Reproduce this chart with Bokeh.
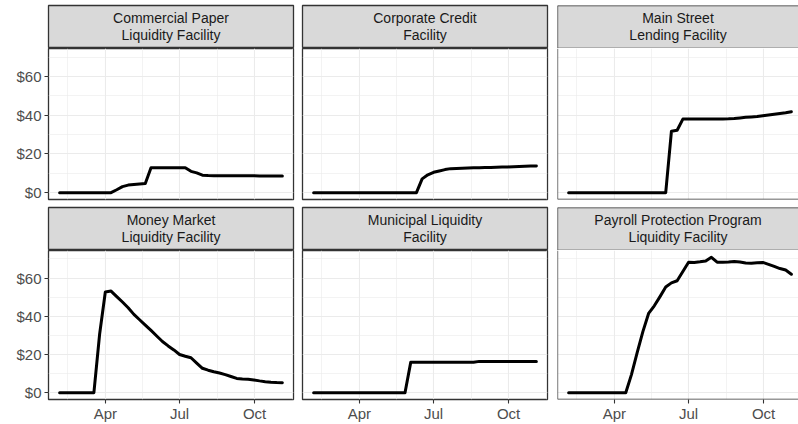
from datetime import datetime

from bokeh.core.properties import value
from bokeh.embed import file_html
from bokeh.layouts import column, row
from bokeh.models import (DatetimeTickFormatter, FixedTicker, Grid,
                          PrintfTickFormatter, Range1d, Span)
from bokeh.plotting import figure
from bokeh.resources import INLINE

# Weekly balance-sheet dates (Wednesdays), 2020
week_dates = [
    "2020-02-05", "2020-02-12", "2020-02-19", "2020-02-26", "2020-03-04",
    "2020-03-11", "2020-03-18", "2020-03-25", "2020-04-01", "2020-04-08",
    "2020-04-15", "2020-04-22", "2020-04-29", "2020-05-06", "2020-05-13",
    "2020-05-20", "2020-05-27", "2020-06-03", "2020-06-10", "2020-06-17",
    "2020-06-24", "2020-07-01", "2020-07-08", "2020-07-15", "2020-07-22",
    "2020-07-29", "2020-08-05", "2020-08-12", "2020-08-19", "2020-08-26",
    "2020-09-02", "2020-09-09", "2020-09-16", "2020-09-23", "2020-09-30",
    "2020-10-07", "2020-10-14", "2020-10-21", "2020-10-28", "2020-11-04",
]

# Outstanding balances, billions of dollars
commercial_paper = [
    0, 0, 0, 0, 0, 0, 0, 0, 0, 0,
    1.5, 3.1, 3.9, 4.2, 4.5, 4.7,
    12.9, 12.9, 12.9, 12.9, 12.9, 12.9, 12.9,
    11.0, 10.2, 9.0, 8.8,
    8.7, 8.7, 8.7, 8.7, 8.7, 8.7, 8.7, 8.7, 8.6, 8.6, 8.6, 8.6, 8.6,
]
corporate_credit = [
    0, 0, 0, 0, 0, 0, 0, 0, 0, 0, 0, 0, 0, 0, 0, 0, 0, 0, 0,
    7.1, 9.2, 10.5, 11.2, 11.9, 12.4, 12.5, 12.6, 12.7, 12.8, 12.9,
    13.0, 13.0, 13.1, 13.2, 13.3, 13.4, 13.5, 13.6, 13.7, 13.8,
]
main_street = [
    0, 0, 0, 0, 0, 0, 0, 0, 0, 0, 0, 0, 0, 0, 0, 0, 0, 0,
    31.7, 32.2, 38.0,
    38.0, 38.0, 38.0, 38.0, 38.0, 38.0, 38.0,
    38.1, 38.3, 38.6, 38.9, 39.1, 39.3, 39.7, 40.1, 40.5, 40.9, 41.3, 41.8,
]
money_market = [
    0, 0, 0, 0, 0, 0, 0,
    30.6, 52.7, 53.2, 50.3, 47.5, 44.5, 41.0, 38.2, 35.4, 32.6,
    29.7, 26.8, 24.5, 22.4, 20.0, 19.1, 18.3, 15.5, 12.8, 11.8,
    11.0, 10.3, 9.5, 8.5, 7.5, 7.2, 7.0, 6.7, 6.2, 5.8,
    5.5, 5.3, 5.2,
]
municipal = [
    0, 0, 0, 0, 0, 0, 0, 0, 0, 0, 0, 0, 0, 0, 0, 0, 0,
    15.9, 15.9, 15.9, 15.9, 15.9, 15.9, 15.9, 15.9, 15.9, 15.9, 15.9, 15.9,
    16.4, 16.4, 16.4, 16.4, 16.4, 16.4, 16.4, 16.4, 16.4, 16.4, 16.4,
]
payroll_protection = [
    0, 0, 0, 0, 0, 0, 0, 0, 0, 0, 0,
    9.5, 21.0, 32.0, 41.5, 45.5, 50.3, 55.3, 57.5, 58.6, 63.5,
    68.3, 68.2, 68.5, 68.9, 70.9, 68.3, 68.3, 68.4, 68.7, 68.4,
    67.9, 67.8, 68.0, 68.2, 67.2, 66.1, 65.0, 64.2, 62.0,
]

facet_labels = [
    "Commercial Paper\nLiquidity Facility",
    "Corporate Credit\nFacility",
    "Main Street\nLending Facility",
    "Money Market\nLiquidity Facility",
    "Municipal Liquidity\nFacility",
    "Payroll Protection Program\nLiquidity Facility",
]
facet_values = [commercial_paper, corporate_credit, main_street,
                money_market, municipal, payroll_protection]

x_tick_dates = ["2020-04-01", "2020-07-01", "2020-10-01"]
x_minor_dates = ["2020-02-15", "2020-05-16", "2020-08-16", "2020-11-16"]
y_ticks = [0, 20, 40, 60]
y_minor = [10, 30, 50, 70]

# ---- styling -------------------------------------------------------------
FONT = "Liberation Sans"
BORDER = "#333333"
GRID = "#EBEBEB"
STRIP_FILL = "#D9D9D9"

def to_ms(d):
    return (d - datetime(1970, 1, 1)).total_seconds() * 1000.0

dates = [datetime.strptime(d, "%Y-%m-%d") for d in week_dates]
x_ticker = FixedTicker(
    ticks=[to_ms(datetime.strptime(d, "%Y-%m-%d")) for d in x_tick_dates],
    minor_ticks=[to_ms(datetime.strptime(d, "%Y-%m-%d")) for d in x_minor_dates],
)
y_ticker = FixedTicker(ticks=y_ticks, minor_ticks=y_minor)

# shared scales with 5% padding on each side
x_first, x_last = to_ms(dates[0]), to_ms(dates[-1])
x_pad = 0.05 * (x_last - x_first)
x_start, x_full_end = x_first - x_pad, x_last + x_pad
y_max = max(max(v) for v in facet_values)
y_pad = 0.05 * y_max
y_start, y_end = -y_pad, y_max + y_pad

# column geometry: canvas width, left border, right border (frame = rest)
col_geom = [(297, 48, 4), (255, 5, 5), (246, 5, 0)]
FULL_FRAME = 245
# strip / panel heights: (canvas height, top border, bottom border)
strip_geom = [(48, 5, 0), (47, 4, 0)]
panel_geom = [(155, 0, 4), (174, 0, 23)]


def edge_spans(fig, left, bottom, top=None):
    """Open-sided box border for the cropped right-hand column."""
    kw = dict(line_color=BORDER, line_width=1.3)
    fig.add_layout(Span(location=left, dimension="height", **kw))
    fig.add_layout(Span(location=bottom, dimension="width", **kw))
    if top is not None:
        fig.add_layout(Span(location=top, dimension="width", **kw))


def make_strip(label, r, c):
    w, bl, br = col_geom[c]
    h, bt, bb = strip_geom[r]
    s = figure(width=w, height=h, x_range=Range1d(0, 1), y_range=Range1d(0, 1),
               x_axis_location=None, y_axis_location=None,
               toolbar_location=None, output_backend="svg",
               min_border_left=bl, min_border_right=br,
               min_border_top=bt, min_border_bottom=bb)
    s.grid.visible = False
    s.background_fill_color = STRIP_FILL
    s.border_fill_color = "white"
    if c == 2:
        s.outline_line_alpha = 0
        edge_spans(s, 0, 0, 1)
    else:
        s.outline_line_color = BORDER
        s.outline_line_width = 1.3
    s.text(x=[0.5], y=[0.52], text=[label], text_align="center",
           text_baseline="middle", text_font=value(FONT),
           text_font_size="14px", text_color="#1A1A1A", text_line_height=1.08)
    return s


def style_axis(ax):
    ax.axis_line_color = None
    ax.major_tick_out = 4
    ax.major_tick_in = 0
    ax.minor_tick_out = 0
    ax.minor_tick_in = 0
    ax.major_tick_line_color = BORDER
    ax.major_tick_line_width = 1.1
    ax.major_label_text_font = FONT
    ax.major_label_text_font_size = "15px"
    ax.major_label_text_color = "#4D4D4D"
    ax.major_label_standoff = 3


def make_panel(vals, r, c):
    w, bl, br = col_geom[c]
    h, bt, bb = panel_geom[r]
    frame_w = w - bl - br
    x_end = x_start + (x_full_end - x_start) * frame_w / FULL_FRAME
    p = figure(width=w, height=h, x_axis_type="datetime",
               x_range=Range1d(x_start, x_end), y_range=Range1d(y_start, y_end),
               x_axis_location="below" if r == 1 else None,
               y_axis_location="left" if c == 0 else None,
               toolbar_location=None, output_backend="svg",
               min_border_left=bl, min_border_right=br,
               min_border_top=bt, min_border_bottom=bb)
    p.center = [m for m in p.center if not isinstance(m, Grid)]
    for dim, tk in ((0, x_ticker), (1, y_ticker)):
        p.add_layout(Grid(dimension=dim, ticker=tk, grid_line_color=GRID,
                          grid_line_width=1.1, minor_grid_line_color=GRID,
                          minor_grid_line_width=0.6), "center")
    p.background_fill_color = "white"
    p.border_fill_color = "white"
    if c == 2:
        p.outline_line_alpha = 0
        edge_spans(p, x_start, y_start)
    else:
        p.outline_line_color = BORDER
        p.outline_line_width = 1.3
    if r == 1:
        p.xaxis.ticker = x_ticker
        p.xaxis.formatter = DatetimeTickFormatter(months="%b", days="%b")
        style_axis(p.xaxis[0])
        p.xaxis.major_label_standoff = 1
    if c == 0:
        p.yaxis.ticker = y_ticker
        p.yaxis.formatter = PrintfTickFormatter(format="$%d")
        style_axis(p.yaxis[0])
    p.line(x=dates, y=vals, line_color="black", line_width=3,
           line_join="round", line_cap="round")
    return p


rows = []
for r in range(2):
    strips, panels = [], []
    for c in range(3):
        i = r * 3 + c
        strips.append(make_strip(facet_labels[i], r, c))
        panels.append(make_panel(facet_values[i], r, c))
    rows.append(row(*strips))
    rows.append(row(*panels))

layout = column(*rows)

with open("out.html", "w") as f:
    f.write(file_html(layout, INLINE))
